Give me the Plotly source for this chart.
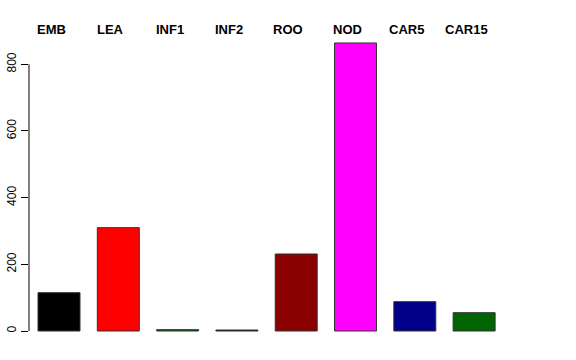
import plotly.graph_objects as go

categories = ["EMB", "LEA", "INF1", "INF2", "ROO", "NOD", "CAR5", "CAR15"]
values = [115, 310, 4, 3, 231, 864, 88, 55]
colors = ["#000000", "#FF0000", "#006400", "#000000", "#8B0000", "#FF00FF", "#00008B", "#006400"]
y_ticks = [0, 200, 400, 600, 800]

xpos = list(range(len(categories)))

fig = go.Figure()
fig.add_trace(go.Bar(
    x=xpos, y=values,
    marker=dict(color=colors, line=dict(color="#333333", width=1)),
    hoverinfo="skip", showlegend=False,
))

for i, c in enumerate(categories):
    fig.add_annotation(x=xpos[i], xref="x", y=1.0065, yref="paper",
                       text="<b>%s</b>" % c, showarrow=False,
                       xanchor="center", yanchor="middle", xshift=-8,
                       font=dict(family="Liberation Sans, Arial, sans-serif", size=13, color="black"))

fig.add_shape(type="line", xref="paper", yref="y", x0=0, x1=0,
              y0=y_ticks[0], y1=y_ticks[-1], line=dict(color="black", width=1))

fig.update_layout(
    width=576, height=360,
    margin=dict(l=29, r=30, t=32, b=18, autoexpand=False),
    plot_bgcolor="white", paper_bgcolor="white",
    bargap=0.292,
    font=dict(family="Liberation Sans, Arial, sans-serif", size=12, color="black"),
    xaxis=dict(range=[-0.506, 8.212], showticklabels=False, showgrid=False,
               zeroline=False, showline=False, ticks="", automargin=False),
    yaxis=dict(range=[-33, 896.9], tickvals=y_ticks, ticktext=[str(v) for v in y_ticks],
               tickangle=-90, ticks="outside", ticklen=7, tickcolor="black",
               showgrid=False, zeroline=False, showline=False, automargin=False,
               tickfont=dict(size=12, color="black")),
)

fig.write_html("out.html", config={"displayModeBar": False, "staticPlot": True},
               post_script="document.body.style.margin='0';document.body.style.overflow='hidden';")
